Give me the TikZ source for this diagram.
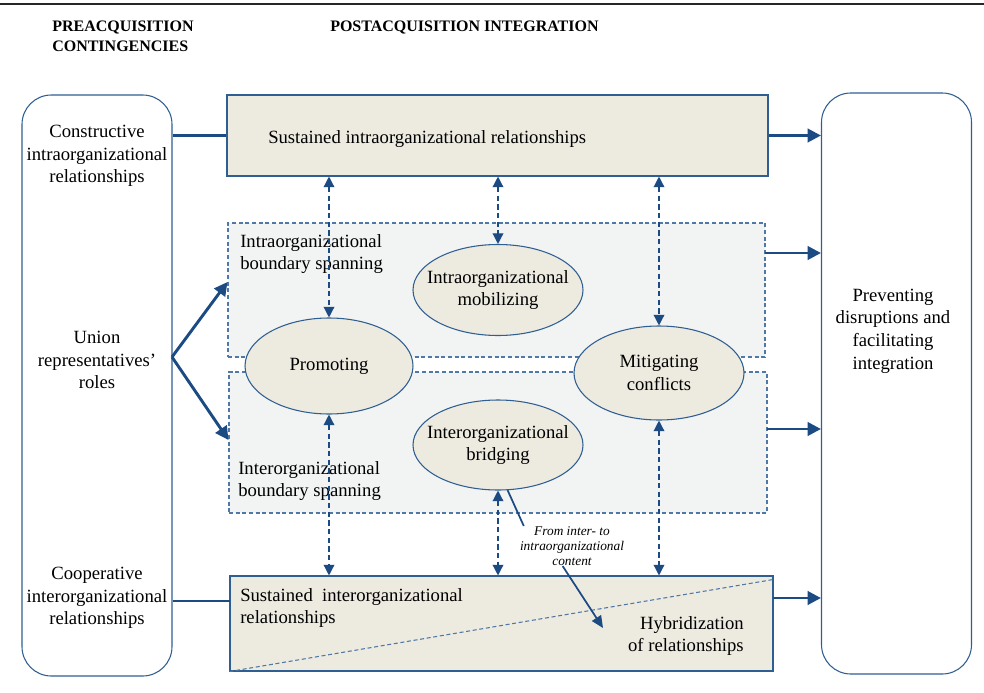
\documentclass[tikz,border=0pt]{standalone}
\usepackage{fontspec}
\setmainfont{Liberation Serif}
\usetikzlibrary{arrows.meta,shapes.geometric}
\definecolor{darkblue}{HTML}{1B4B82}
\definecolor{boxblue}{HTML}{2F5F92}
\definecolor{dashblue}{HTML}{4F78A6}
\definecolor{beige}{HTML}{EDEAE0}
\definecolor{palegray}{HTML}{F2F3F3}

\tikzset{
  txt/.style={font=\fontsize{14}{17}\selectfont, inner sep=0pt, align=center},
  head/.style={font=\fontsize{12}{15}\selectfont\bfseries, inner sep=0pt, align=left, anchor=west},
  sidebox/.style={draw=boxblue, line width=0.8pt, rounded corners=22pt, inner sep=0pt,
    minimum width=112.5pt, minimum height=435.75pt},
  solidbox/.style={draw=boxblue, line width=0.8pt, fill=beige, inner sep=0pt},
  dashbox/.style={draw=dashblue, line width=0.8pt, dash pattern=on 3pt off 2pt, fill=palegray, inner sep=0pt},
  oval/.style={ellipse, draw=boxblue, line width=0.8pt, fill=beige, inner xsep=-14pt, inner ysep=0pt,
    font=\fontsize{14}{17}\selectfont, align=center},
  bigarrow/.style={draw=darkblue, line width=2.2pt, -{Triangle[length=10pt,width=10pt]}},
  bigline/.style={draw=darkblue, line width=2.2pt},
  dblarrow/.style={draw=darkblue, line width=1pt, dash pattern=on 4pt off 2.5pt,
    {Triangle[length=8pt,width=8pt]}-{Triangle[length=8pt,width=8pt]}},
  thinarrow/.style={draw=darkblue, line width=1.3pt, -{Triangle[length=9pt,width=8pt]}}
}

\begin{document}
\begin{tikzpicture}[x=0.75pt,y=-0.75pt]
\useasboundingbox (0,0) rectangle (984,692);

% ylaviiva
\draw[line width=1.8pt, color=black!85] (0,4) -- (984,4);

% otsikot
\node[head] (prehead) at (52,36) {PREACQUISITION\\CONTINGENCIES};
\node[head] (posthead) at (330,28) {POSTACQUISITION INTEGRATION};

% reunalaatikot
\node[sidebox] (pre) at (97,385.5) {};
\node[sidebox] (outcome) at (896.5,383.5) {};
\node[txt] (constr) at (97,156) {Constructive\\intraorganizational\\relationships};
\node[txt] (union) at (97,360) {Union\\representatives'\\roles};
\node[txt] (coop) at (97,598) {Cooperative\\interorganizational\\relationships};
\node[txt] (prevent) at (893,331) {Preventing\\disruptions and\\facilitating\\integration};

% keskimmaiset laatikot
\node[solidbox, minimum width=405.75pt, minimum height=60.75pt] (topbox) at (497.5,135.5) {};
\node[dashbox, minimum width=402.75pt, minimum height=100.5pt] (intrabox) at (496.5,290) {};
\node[dashbox, minimum width=403.5pt, minimum height=105.75pt] (interbox) at (498,442.5) {};
\node[solidbox, minimum width=407.25pt, minimum height=71.25pt] (botbox) at (501.5,623.5) {};
\draw[draw=dashblue, line width=0.8pt, dash pattern=on 3pt off 2pt]
  (botbox.south west) -- ([yshift=-3pt]botbox.north east);

\node[txt, anchor=west] (topname) at (268,139) {Sustained intraorganizational relationships};
\node[txt, anchor=west, align=left] (intraname) at (240,254) {Intraorganizational\\boundary spanning};
\node[txt, anchor=west, align=left] (intername) at (238,481) {Interorganizational\\boundary spanning};
\node[txt, anchor=west, align=left] (botname) at (240,608) {Sustained\ \ interorganizational\\relationships};
\node[txt, anchor=east, align=right] (hybrid) at (744,636) {Hybridization\\of relationships};

% ellipsit
\node[oval, minimum width=126pt, minimum height=72pt] (promo) at (329,366) {Promoting};
\node[oval, minimum width=127.5pt, minimum height=68.25pt] (mobil) at (498,290) {Intraorganizational\\mobilizing};
\node[oval, minimum width=127.5pt, minimum height=70.5pt] (mitig) at (659,373) {Mitigating\\conflicts};
\node[oval, minimum width=127.5pt, minimum height=67.5pt] (bridg) at (498,445) {Interorganizational\\bridging};

% katkoviivanuolet
\draw[dblarrow] (topbox.south -| promo.north) -- (promo.north);
\draw[dblarrow] (topbox.south -| mobil.north) -- (mobil.north);
\draw[dblarrow] (topbox.south -| mitig.north) -- (mitig.north);
\draw[dblarrow] (promo.south) -- (botbox.north -| promo.south);
\draw[dblarrow] (bridg.south) -- (botbox.north -| bridg.south);
\draw[dblarrow] (mitig.south) -- (botbox.north -| mitig.south);

% vasemmalta
\coordinate (roles) at (172,357);
\draw[bigline] (pre.east |- topbox.west) -- (topbox.west);
\coordinate (coopend) at (230,601);
\draw[bigline] (pre.east |- coopend) -- (coopend);
\draw[bigarrow] (roles) -- (intrabox.west |- 0,282);
\draw[bigarrow] (roles) -- (interbox.west |- 0,440);

% oikealle
\coordinate (intraout) at (765,253);
\coordinate (interout) at (767,429);
\coordinate (botout) at (773,598);
\draw[bigarrow] (topbox.east) -- (topbox.east -| outcome.west);
\draw[bigarrow] (intraout) -- (intraout -| outcome.west);
\draw[bigarrow] (interout) -- (interout -| outcome.west);
\draw[bigarrow] (botout) -- (botout -| outcome.west);

% siirtyma
\node[font=\fontsize{10}{11.5}\selectfont\itshape, inner sep=0pt, align=center] (shiftnote) at (572,546)
  {From inter- to\\intraorganizational\\content};
\coordinate (hyb) at (603,628);
\draw[draw=darkblue, line width=1.3pt] (bridg.-78) -- ([xshift=3pt]shiftnote.north west);
\draw[thinarrow] ([xshift=-7pt]shiftnote.south) -- (hyb);
\end{tikzpicture}
\end{document}
